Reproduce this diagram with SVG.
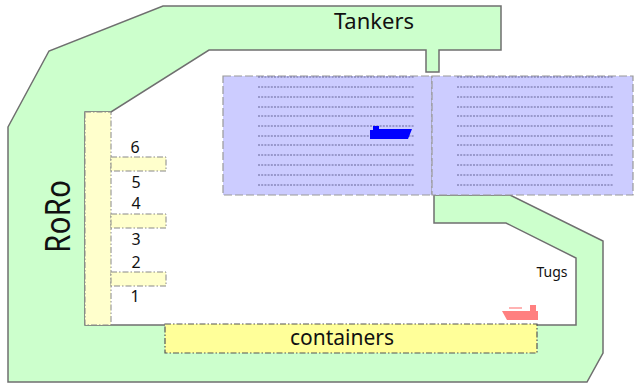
<svg xmlns="http://www.w3.org/2000/svg" width="634" height="383" viewBox="0 0 634 383">
<style>
text{font-family:"Noto Sans","Open Sans","Liberation Sans",sans-serif;fill:#111}
.land{fill:#ccffcc;stroke:#6f6f6f;stroke-width:1.5}
.water{fill:#ccccff;stroke:#999;stroke-width:1.2;stroke-dasharray:8 3}
.pier{fill:#ffffcc;stroke:#888;stroke-width:1;stroke-dasharray:6 2 1.5 2}
.cont{fill:#ffff99;stroke:#555;stroke-width:1.2;stroke-dasharray:6 2 1.5 2}
.dot{stroke:#666699;stroke-width:1.1;stroke-dasharray:2 1.2;fill:none}
.num{font-size:16px;text-anchor:middle}
</style>
<defs>
<g id="rows">
<path class="dot" d="M0 77H156M0 87H156M0 97H156M0 107H156M0 116H156M0 126H156M0 136H156M0 145H156M0 155H156M0 165H156M0 175H156M0 185H156"/>
</g>
</defs>
<g id="port-land">
<path class="land" d="M8 127L49 51L163 6H501V50H439V72H426V50H209L111 112H85V325H576V258L506 223H434V195H510L603 241V353L587 382H8Z"/>
<text x="374" y="29" font-size="22" text-anchor="middle">Tankers</text>
<text x="552" y="277" font-size="14" text-anchor="middle">Tugs</text>
<text transform="translate(70 253) rotate(-90)" font-size="34" textLength="73" lengthAdjust="spacingAndGlyphs">RoRo</text>
</g>
<g id="anchorage">
<rect class="water" x="223" y="76" width="209" height="119"/>
<rect class="water" x="432" y="76" width="201" height="119"/>
<use href="#rows" x="258"/>
<use href="#rows" x="457"/>
</g>
<g id="roro-pier">
<rect class="pier" x="85" y="112" width="26" height="213"/>
<rect class="pier" x="111" y="157" width="55" height="14"/>
<rect class="pier" x="111" y="214" width="55" height="14"/>
<rect class="pier" x="111" y="272" width="55" height="14"/>
<text class="num" x="135" y="153">6</text>
<text class="num" x="136" y="188">5</text>
<text class="num" x="136" y="209">4</text>
<text class="num" x="136" y="245">3</text>
<text class="num" x="136" y="268">2</text>
<text class="num" x="135" y="302">1</text>
</g>
<g id="containers">
<rect class="cont" x="165" y="324" width="372" height="29"/>
<text x="342" y="345" font-size="21" text-anchor="middle">containers</text>
</g>
<g id="tanker-ship">
<path fill="#0000ff" d="M370 130H373V126H379V129H412L408 139H370Z"/>
</g>
<g id="tug-ship">
<path fill="#ff8080" d="M502 311H530V305H536V311H538V320H507Z"/>
<path stroke="#ff8080" stroke-width="1.2" d="M509 308H522"/>
</g>
</svg>
